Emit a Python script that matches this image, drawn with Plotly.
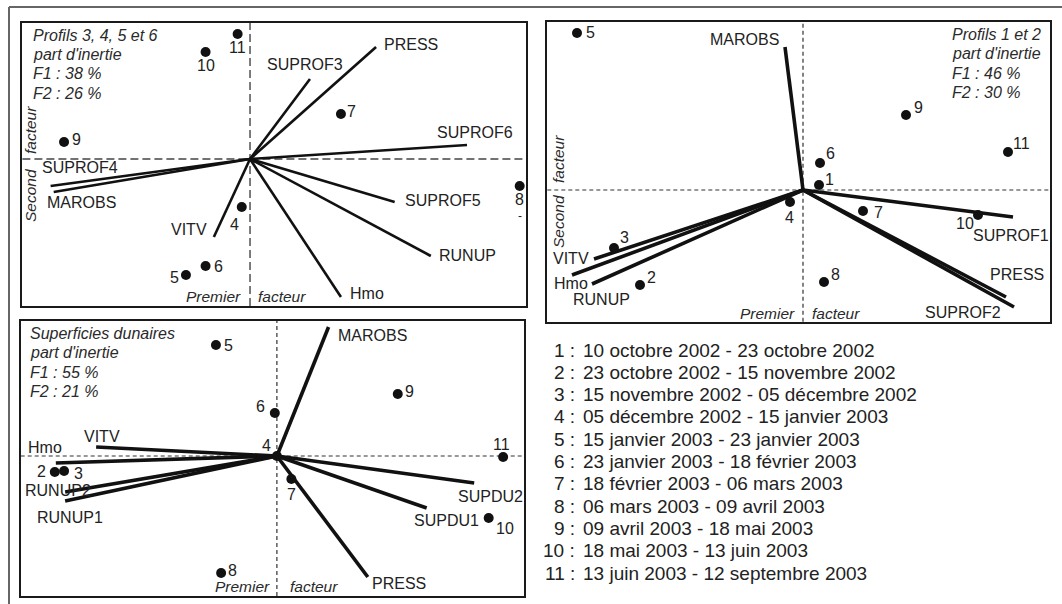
import plotly.graph_objects as go

W, H = 1062, 604
FONT = "Liberation Sans, Arial, Helvetica, sans-serif"

# ---------------- data (factor coordinates) ----------------
# Panel 1 : Profils 3, 4, 5 et 6
P1_INFO = ["Profils 3, 4, 5 et 6", "part d'inertie", "F1 : 38 %", "F2 : 26 %"]
P1_PT_IDS = ["4", "5", "6", "7", "8", "9", "10", "11"]
P1_PT_F1 = [-0.08, -0.62, -0.43, 0.88, 2.61, -1.80, -0.43, -0.12]
P1_PT_F2 = [-0.48, -1.16, -1.07, 0.45, -0.27, 0.17, 1.07, 1.25]
P1_VAR_NAMES = ["PRESS", "SUPROF3", "SUPROF6", "SUPROF5", "RUNUP", "Hmo", "VITV", "SUPROF4", "MAROBS"]
P1_VAR_F1 = [1.22, 0.58, 2.10, 1.40, 1.75, 0.88, -0.35, -1.93, -1.90]
P1_VAR_F2 = [1.12, 0.80, 0.14, -0.43, -0.97, -1.38, -0.78, -0.27, -0.33]

# Panel 2 : Profils 1 et 2
P2_INFO = ["Profils 1 et 2", "part d'inertie", "F1 : 46 %", "F2 : 30 %"]
P2_PT_IDS = ["1", "2", "3", "4", "5", "6", "7", "8", "9", "10", "11"]
P2_PT_F1 = [0.16, -1.63, -1.89, -0.13, -2.26, 0.17, 0.60, 0.21, 1.03, 1.75, 2.05]
P2_PT_F2 = [0.05, -0.95, -0.58, -0.12, 1.57, 0.27, -0.21, -0.92, 0.75, -0.25, 0.38]
P2_VAR_NAMES = ["MAROBS", "SUPROF1", "PRESS", "SUPROF2", "VITV", "Hmo", "RUNUP"]
P2_VAR_F1 = [-0.18, 2.10, 2.03, 2.11, -2.09, -2.31, -2.11]
P2_VAR_F2 = [1.43, -0.27, -1.07, -1.17, -0.69, -0.85, -0.94]

# Panel 3 : Superficies dunaires
P3_INFO = ["Superficies dunaires", "part d'inertie", "F1 : 55 %", "F2 : 21 %"]
P3_PT_IDS = ["2", "3", "4", "5", "6", "7", "8", "9", "10", "11"]
P3_PT_F1 = [-2.15, -2.06, 0.00, -0.59, -0.02, 0.14, -0.54, 1.17, 2.05, 2.19]
P3_PT_F2 = [-0.16, -0.15, 0.00, 1.11, 0.43, -0.23, -1.17, 0.62, -0.62, -0.01]
P3_VAR_NAMES = ["MAROBS", "VITV", "Hmo", "RUNUP2", "RUNUP1", "SUPDU2", "SUPDU1", "PRESS"]
P3_VAR_F1 = [0.50, -1.75, -2.14, -2.05, -2.05, 1.91, 1.45, 0.88]
P3_VAR_F2 = [1.29, 0.09, -0.07, -0.36, -0.45, -0.27, -0.52, -1.21]

# Period legend
PERIOD_IDS = ["1", "2", "3", "4", "5", "6", "7", "8", "9", "10", "11"]
PERIOD_DATES = [
    "10 octobre 2002 - 23 octobre 2002",
    "23 octobre 2002 - 15 novembre 2002",
    "15 novembre 2002 - 05 décembre 2002",
    "05 décembre 2002 - 15 janvier 2003",
    "15 janvier 2003 - 23 janvier 2003",
    "23 janvier 2003 - 18 février 2003",
    "18 février 2003 - 06 mars 2003",
    "06 mars 2003 - 09 avril 2003",
    "09 avril 2003 - 18 mai 2003",
    "18 mai 2003 - 13 juin 2003",
    "13 juin 2003 - 12 septembre 2003",
]

# ---------------- layout / style ----------------
def px_x(v):
    return v / W

def px_y(v):
    return 1 - v / H

PANELS = [
    dict(n="", info=P1_INFO,
         ids=P1_PT_IDS, pf1=P1_PT_F1, pf2=P1_PT_F2,
         vn=P1_VAR_NAMES, vf1=P1_VAR_F1, vf2=P1_VAR_F2,
         box=(22.4, 526.2, 22.7, 306.0), xr=(-2.203, 2.673), yr=(-1.47, 1.363),
         lw=2.6, dash="8px,4px", dcol="#444", dw=1.4,
         info_x=31, info_y0=35, second=True,
         sec_x=31, sec_shift=(-36, 29), prem_shift=(-7, 6), prem_y=296,
         var_pos={"PRESS": ("left", 6, 2), "SUPROF3": ("center", -5, 14),
                  "SUPROF6": ("center", 8, 12), "SUPROF5": ("left", 8, 1),
                  "RUNUP": ("left", 6, 0), "Hmo": ("left", 7, 4),
                  "VITV": ("right", -5, 7), "SUPROF4": ("center", 29, 18),
                  "MAROBS": ("center", 28, -11)},
         pt_pos={"11": (0, -14), "10": (0, -14), "7": (11, 2), "9": (12, 2),
                 "8": (0, -14), "4": (-7, -18), "6": (13, 0), "5": (-11, -2)}),
    dict(n="2", info=P2_INFO,
         ids=P2_PT_IDS, pf1=P2_PT_F1, pf2=P2_PT_F2,
         vn=P2_VAR_NAMES, vf1=P2_VAR_F1, vf2=P2_VAR_F2,
         box=(547.3, 1050.0, 21.7, 321.7), xr=(-2.557, 2.47), yr=(-1.317, 1.683),
         lw=3.6, dash="4px,3px", dcol="#333", dw=1.2,
         info_x=950, info_y0=34.3, second=True,
         sec_x=558, sec_shift=(-31, 31), prem_shift=(-6, 7), prem_y=313.3,
         var_pos={"MAROBS": ("right", -4, 8), "SUPROF1": ("center", -2, -18),
                  "PRESS": ("center", 11, 23), "SUPROF2": ("right", -11, -5),
                  "VITV": ("right", -3, 1), "Hmo": ("center", -1, -8),
                  "RUNUP": ("center", 9, -15)},
         pt_pos={"1": (10, 6), "2": (11, 8), "3": (10, 11), "4": (-1, -15),
                 "5": (13, 1), "6": (10, 10), "7": (15, -1), "8": (11, 8),
                 "9": (12, 8), "10": (-13, -8), "11": (13, 9)}),
    dict(n="3", info=P3_INFO,
         ids=P3_PT_IDS, pf1=P3_PT_F1, pf2=P3_PT_F2,
         vn=P3_VAR_NAMES, vf1=P3_VAR_F1, vf2=P3_VAR_F2,
         box=(20.7, 524.1, 321.0, 596.0), xr=(-2.48, 2.393), yr=(-1.40, 1.35),
         lw=3.6, dash="4px,3px", dcol="#333", dw=1.2,
         info_x=27.6, info_y0=333.3, second=False,
         sec_x=0, sec_shift=(0, 0), prem_shift=(-5, 11), prem_y=586,
         var_pos={"MAROBS": ("left", 7, -8), "VITV": ("center", 6, 11),
                  "Hmo": ("center", -11, 16), "RUNUP2": ("center", -7, 2),
                  "RUNUP1": ("center", 5, -16), "SUPDU2": ("center", 16, -13),
                  "SUPDU1": ("center", 20, -12), "PRESS": ("left", 2, -6)},
         pt_pos={"2": (-13, 1), "3": (14, -2), "4": (-10, 11), "5": (13, 0),
                 "6": (-14, 7), "7": (0, -15), "8": (11, 3), "9": (12, 3),
                 "10": (16, -10), "11": (-2, 13)}),
]

INK = "#111111"
TXT = "#222222"
LBL_SIZE = 16
ITAL = "#2a2a2a"

fig = go.Figure()
annotations = []
shapes = []
layout_axes = {}

for p in PANELS:
    n = p["n"]
    xa, ya = "x" + n, "y" + n
    L, R, T, B = p["box"]
    layout_axes["xaxis" + n] = dict(
        domain=[px_x(L), px_x(R)], range=list(p["xr"]), anchor=ya,
        showgrid=False, zeroline=False, showticklabels=False, ticks="",
        showline=True, mirror=True, linecolor="#1a1a1a", linewidth=1.8,
        fixedrange=True)
    layout_axes["yaxis" + n] = dict(
        domain=[px_y(B), px_y(T)], range=list(p["yr"]), anchor=xa,
        showgrid=False, zeroline=False, showticklabels=False, ticks="",
        showline=True, mirror=True, linecolor="#1a1a1a", linewidth=1.8,
        fixedrange=True)

    # dashed factor axes
    shapes.append(dict(type="line", xref=xa, yref=ya + " domain", x0=0, x1=0, y0=0, y1=1,
                       line=dict(color=p["dcol"], width=p["dw"], dash=p["dash"]), layer="below"))
    shapes.append(dict(type="line", xref=xa + " domain", yref=ya, x0=0, x1=1, y0=0, y1=0,
                       line=dict(color=p["dcol"], width=p["dw"], dash=p["dash"]), layer="below"))

    # variable vectors
    for name, f1, f2 in zip(p["vn"], p["vf1"], p["vf2"]):
        fig.add_trace(go.Scatter(x=[0, f1], y=[0, f2], mode="lines", xaxis=xa, yaxis=ya,
                                 line=dict(color=INK, width=p["lw"]), hoverinfo="skip"))
        anc, dx, dy = p["var_pos"][name]
        annotations.append(dict(x=f1, y=f2, xref=xa, yref=ya, text=name, showarrow=False,
                                xanchor=anc, yanchor="middle", xshift=dx, yshift=dy,
                                font=dict(family=FONT, size=LBL_SIZE, color=TXT)))

    # observation points
    fig.add_trace(go.Scatter(x=p["pf1"], y=p["pf2"], mode="markers", xaxis=xa, yaxis=ya,
                             marker=dict(color=INK, size=10), hoverinfo="skip"))
    for pid, f1, f2 in zip(p["ids"], p["pf1"], p["pf2"]):
        dx, dy = p["pt_pos"][pid]
        annotations.append(dict(x=f1, y=f2, xref=xa, yref=ya, text=pid, showarrow=False,
                                xanchor="center", yanchor="middle", xshift=dx, yshift=dy,
                                font=dict(family=FONT, size=LBL_SIZE, color=TXT)))
        if n == "" and pid == "8":
            annotations.append(dict(x=f1, y=f2, xref=xa, yref=ya, text="-", showarrow=False,
                                    xanchor="center", yanchor="middle", xshift=0, yshift=-30,
                                    font=dict(family=FONT, size=12, color=TXT)))

    # inertia info block
    for i, line in enumerate(p["info"]):
        annotations.append(dict(x=px_x(p["info_x"]), y=px_y(p["info_y0"] + i * 19.4),
                                xref="paper", yref="paper", text=line, showarrow=False,
                                xanchor="left", yanchor="middle",
                                font=dict(family=FONT, size=LBL_SIZE, color=ITAL,
                                          style="italic")))

    # axis titles
    sx_l, sx_r = p["prem_shift"]
    annotations.append(dict(x=0, y=px_y(p["prem_y"]), xref=xa, yref="paper", text="Premier",
                            showarrow=False, xanchor="right", yanchor="middle", xshift=sx_l,
                            font=dict(family=FONT, size=LBL_SIZE - 0.5, color=ITAL,
                                      style="italic")))
    annotations.append(dict(x=0, y=px_y(p["prem_y"]), xref=xa, yref="paper", text="facteur",
                            showarrow=False, xanchor="left", yanchor="middle", xshift=sx_r,
                            font=dict(family=FONT, size=LBL_SIZE - 0.5, color=ITAL,
                                      style="italic")))
    if p["second"]:
        s_lo, s_hi = p["sec_shift"]
        annotations.append(dict(x=px_x(p["sec_x"]), y=0, xref="paper", yref=ya, text="Second",
                                showarrow=False, textangle=-90, xanchor="center",
                                yanchor="middle", yshift=s_lo,
                                font=dict(family=FONT, size=LBL_SIZE - 0.5, color=ITAL,
                                          style="italic")))
        annotations.append(dict(x=px_x(p["sec_x"]), y=0, xref="paper", yref=ya, text="facteur",
                                showarrow=False, textangle=-90, xanchor="center",
                                yanchor="middle", yshift=s_hi,
                                font=dict(family=FONT, size=LBL_SIZE - 0.5, color=ITAL,
                                          style="italic")))

# period legend
for i, (pid, dates) in enumerate(zip(PERIOD_IDS, PERIOD_DATES)):
    yy = px_y(350 + i * 22.33)
    annotations.append(dict(x=px_x(577), y=yy, xref="paper", yref="paper", text=pid + " :",
                            showarrow=False, xanchor="right", yanchor="middle",
                            font=dict(family=FONT, size=19, color=TXT)))
    annotations.append(dict(x=px_x(581), y=yy, xref="paper", yref="paper", text=dates,
                            showarrow=False, xanchor="left", yanchor="middle",
                            font=dict(family=FONT, size=19, color=TXT)))

# outer frame (top and left edges)
shapes.append(dict(type="line", xref="paper", yref="paper", x0=px_x(9), x1=1.0,
                   y0=px_y(7), y1=px_y(7), line=dict(color="#666", width=2)))
shapes.append(dict(type="line", xref="paper", yref="paper", x0=px_x(9), x1=px_x(9),
                   y0=px_y(7), y1=0.0, line=dict(color="#666", width=2)))

fig.update_layout(
    width=W, height=H, margin=dict(l=0, r=0, t=0, b=0),
    paper_bgcolor="white", plot_bgcolor="white", showlegend=False,
    annotations=annotations, shapes=shapes, **layout_axes)

fig.write_html(
    "out.html", include_plotlyjs=True, config={"displayModeBar": False},
    post_script="document.body.style.margin='0';document.body.style.padding='0';"
                "document.body.style.overflow='hidden';")
